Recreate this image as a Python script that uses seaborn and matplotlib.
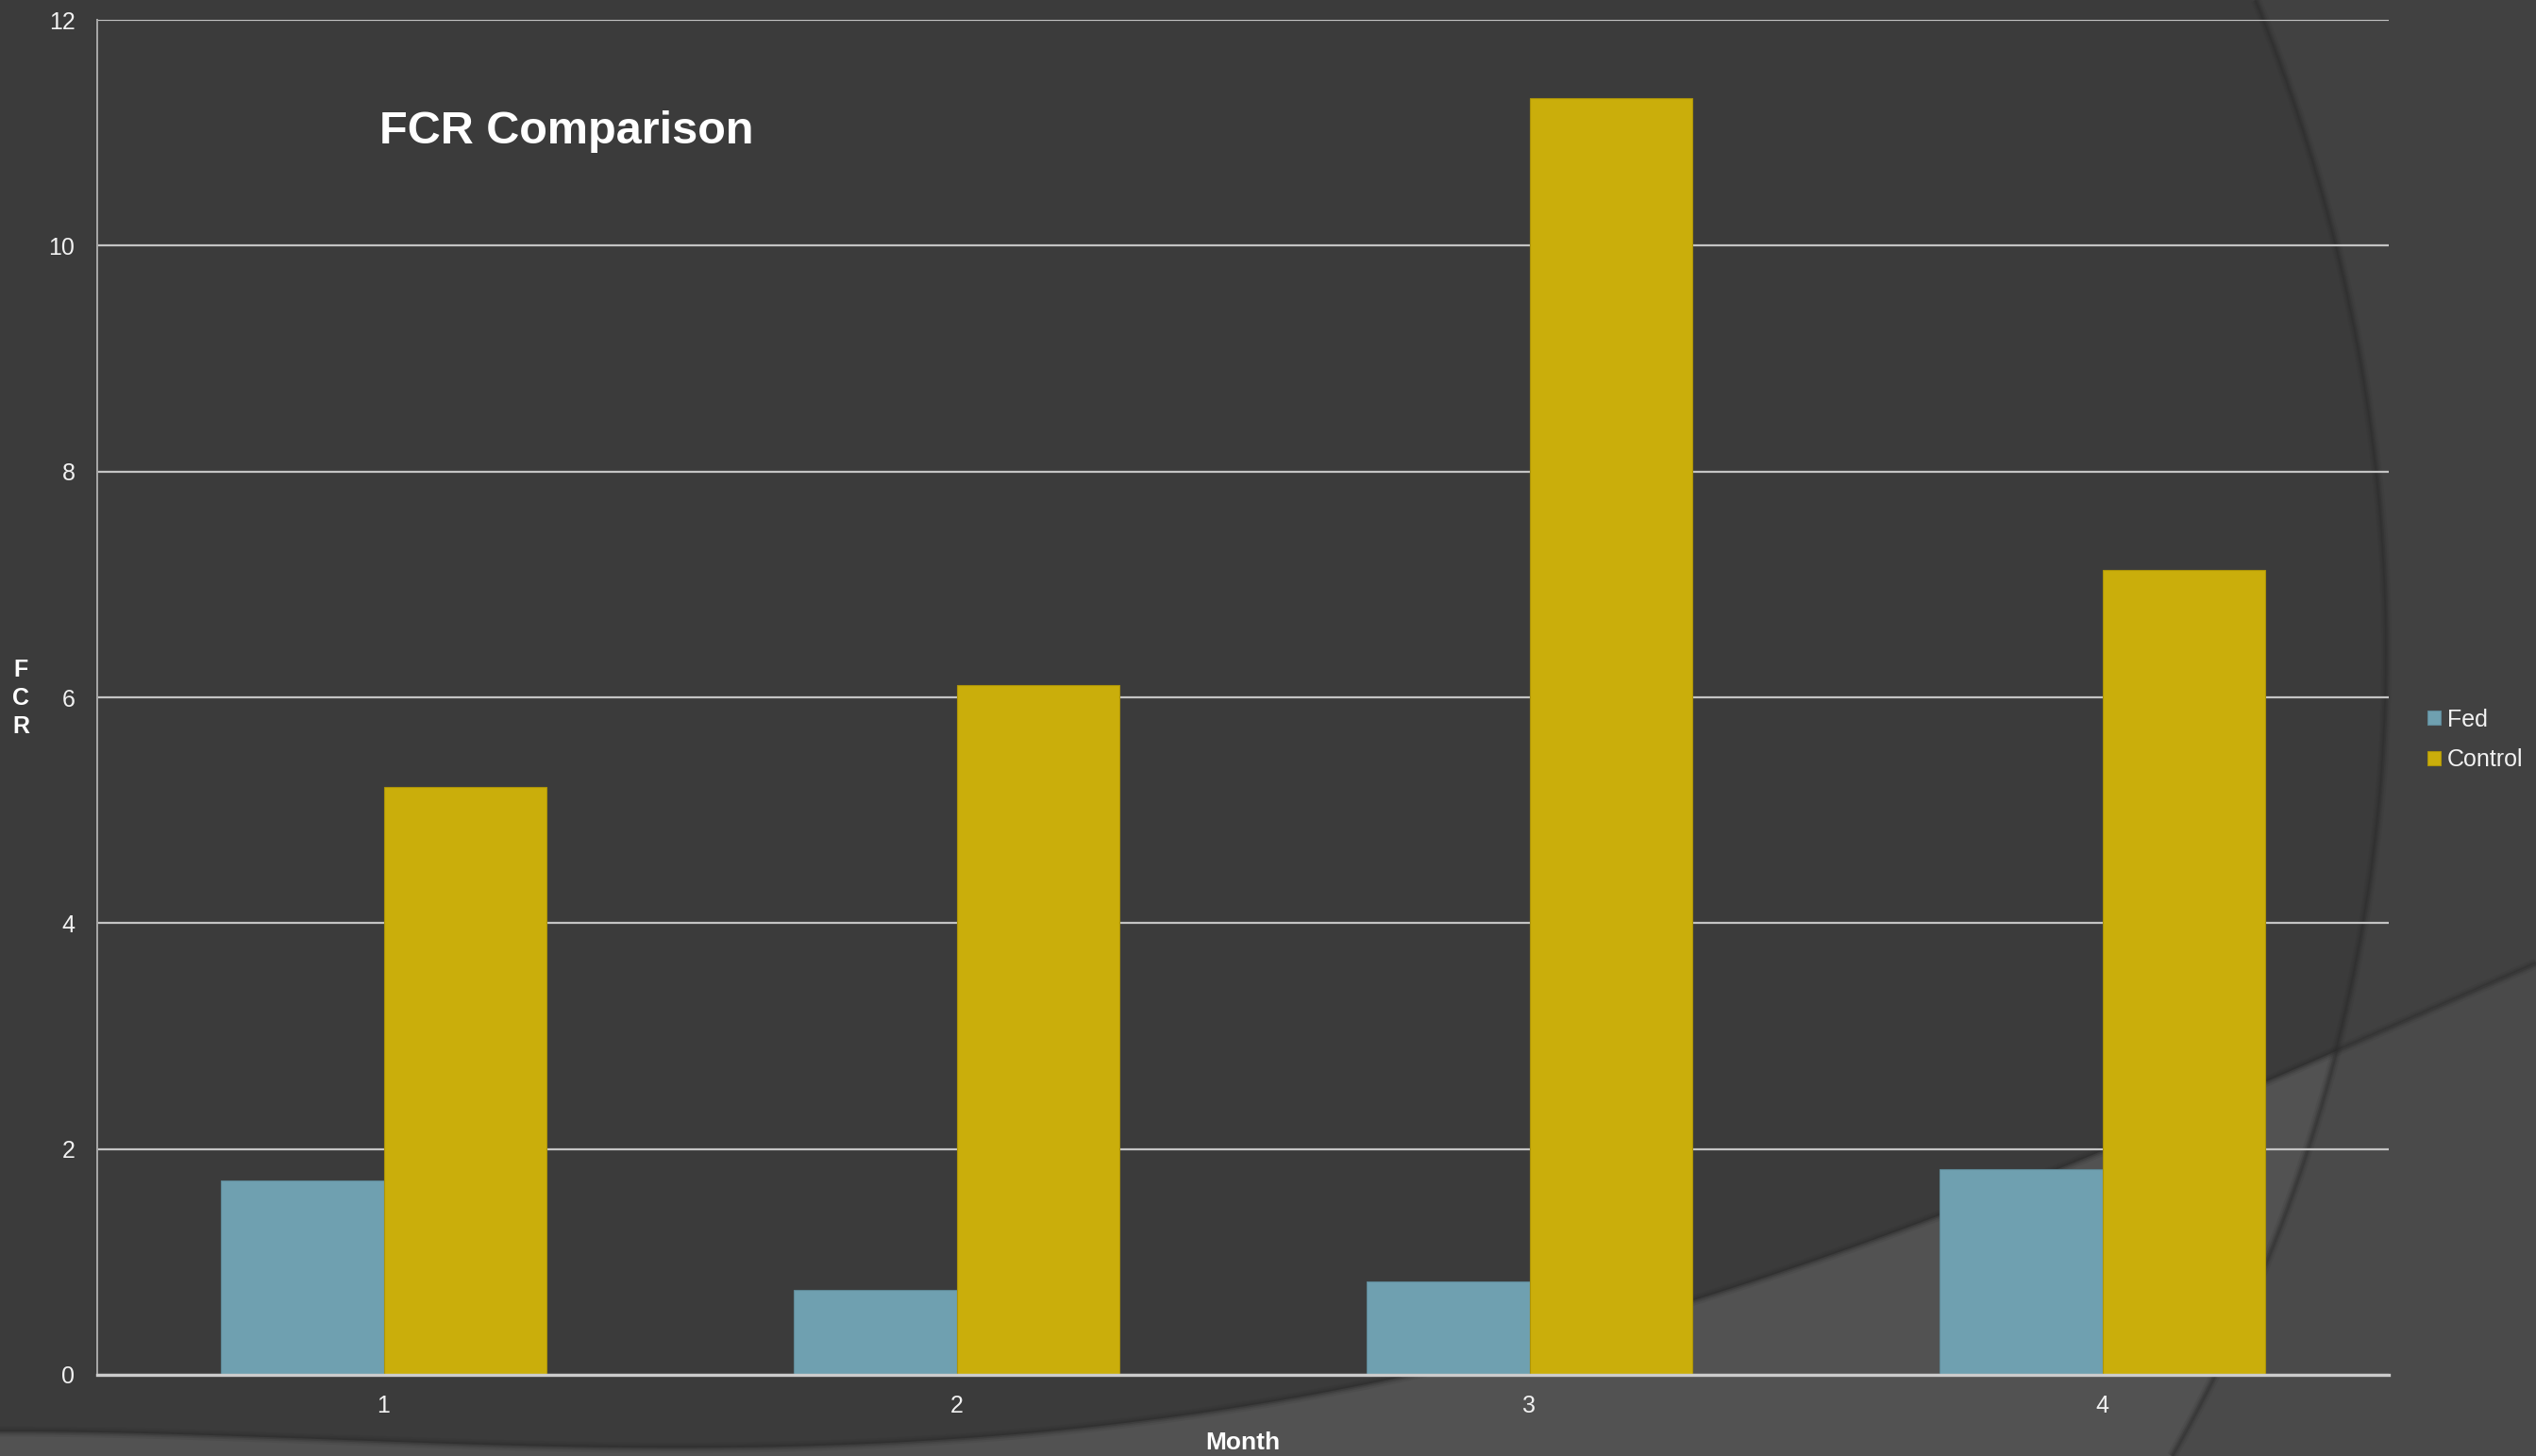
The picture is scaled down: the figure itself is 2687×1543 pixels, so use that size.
import numpy as np
import pandas as pd
import matplotlib
matplotlib.use("Agg")
import matplotlib.pyplot as plt
from matplotlib.patches import Polygon
import seaborn as sns

# ---- data ----
months = ["1", "2", "3", "4"]
fed = [1.72, 0.75, 0.83, 1.82]
control = [5.21, 6.11, 11.31, 7.13]
series_names = ["Fed", "Control"]
y_ticks = [0, 2, 4, 6, 8, 10, 12]

df = pd.DataFrame({
    "Month": months * 2,
    "Group": [series_names[0]] * len(months) + [series_names[1]] * len(months),
    "FCR": fed + control,
})

sns.set_style("white")
plt.rcParams["font.family"] = ["Liberation Sans", "DejaVu Sans"]

W, H = 2687, 1543
fig = plt.figure(figsize=(W / 100, H / 100), dpi=100)
fig.patch.set_facecolor("#3b3b3b")

# ---- decorative background (theme shapes) ----
bg = fig.add_axes([0, 0, 1, 1], zorder=-10)
bg.set_xlim(0, W)
bg.set_ylim(H, 0)
bg.axis("off")

arc_pts = np.array([(2390, 0), (2477, 259), (2510, 446), (2528, 700),
                    (2516, 900), (2478, 1113), (2402, 1330), (2302, 1543)], float)
ca = np.polyfit(arc_pts[:, 1], arc_pts[:, 0], 4)
ys = np.linspace(0, H, 300)
xs = np.polyval(ca, ys)
arc_poly = np.vstack([np.column_stack([xs, ys]), [[W, H], [W, 0]]])

low_pts = np.array([(0, 1517), (574, 1533), (800, 1532), (1259, 1503), (1473, 1459),
                    (1795, 1377), (1900, 1343), (2000, 1310), (2687, 1021)], float)
cl = np.polyfit(low_pts[:, 0], low_pts[:, 1], 4)
lx = np.linspace(0, W, 400)
ly = np.polyval(cl, lx)
low_poly = np.vstack([np.column_stack([lx, ly]), [[W, H], [0, H]]])

p_arc = Polygon(arc_poly, closed=True, facecolor="#414141", edgecolor="none")
bg.add_patch(p_arc)
p_low = Polygon(low_poly, closed=True, facecolor="#525252", edgecolor="none")
bg.add_patch(p_low)
p_low2 = Polygon(low_poly, closed=True, facecolor="#4a4a4a", edgecolor="none")
bg.add_patch(p_low2)
p_low2.set_clip_path(p_arc)
# soft shadows along the shape edges
for k, a in [(8, 0.12), (5, 0.18), (2.5, 0.3)]:
    bg.plot(lx, ly, color="#2a2a2a", lw=k, alpha=a, solid_capstyle="butt")
    bg.plot(xs, ys, color="#2a2a2a", lw=k, alpha=a, solid_capstyle="butt")

# ---- main chart ----
ax = fig.add_axes([103 / W, 1 - 1457 / H, (2531 - 103) / W, (1457 - 21) / H])
ax.set_facecolor("none")

sns.barplot(data=df, x="Month", y="FCR", hue="Group", order=months,
            hue_order=series_names, palette=["#6fa0b0", "#caae0b"],
            width=0.57, gap=0, dodge=True, saturation=1, errorbar=None,
            linewidth=0.8, edgecolor="#5c5c5c", ax=ax, zorder=3)

for p in ax.patches:
    fc = p.get_facecolor()
    p.set_edgecolor(tuple(np.array(fc[:3]) * 0.85) + (1,))

ax.set_ylim(0, 12)
ax.set_xlim(-0.5, len(months) - 0.5)
ax.set_yticks(y_ticks)
ax.set_yticklabels([str(t) for t in y_ticks])
ax.yaxis.grid(True, color="#c4c4c4", linewidth=1.6, zorder=0)
ax.set_axisbelow(True)

ax.set_xticks(range(len(months)))
ax.set_xticklabels(months)
ax.set_xticks(np.arange(-0.5, len(months), 1.0), minor=True)
ax.tick_params(axis="x", which="major", length=0, pad=15, labelsize=18, labelcolor="#f2f2f2")
ax.tick_params(axis="x", which="minor", length=6, width=1.2, color="#b0b0b0", direction="out")
ax.tick_params(axis="y", which="major", length=6, width=1.4, color="#b0b0b0",
               pad=11, labelsize=18, labelcolor="#f2f2f2", direction="out")

for s in ["top", "right"]:
    ax.spines[s].set_visible(False)
ax.spines["left"].set_color("#a8a8a8")
ax.spines["left"].set_linewidth(1.4)
ax.spines["bottom"].set_color("#cccccc")
ax.spines["bottom"].set_linewidth(2.4)
ax.spines["bottom"].set_zorder(5)

ax.set_xlabel("")
ax.set_ylabel("")
leg = ax.get_legend()
handles, labels = ax.get_legend_handles_labels()
if leg is not None:
    leg.remove()

fig.legend(handles, labels, loc="center left", bbox_to_anchor=(2572 / W, 1 - 784 / H),
           frameon=False, fontsize=18, labelcolor="#f2f2f2", handlelength=0.55,
           handleheight=0.55, handletextpad=0.3, labelspacing=0.75, borderpad=0,
           borderaxespad=0)

# titles / labels
fig.text(402 / W, 1 - 152 / H, "FCR Comparison", fontsize=35, fontweight="bold",
         color="white", ha="left", va="baseline")
fig.text(1317 / W, 1 - 1536 / H, "Month", fontsize=19, fontweight="bold",
         color="white", ha="center", va="baseline")
fig.text(22 / W, 1 - 740 / H, "F\nC\nR", fontsize=18, fontweight="bold",
         color="white", ha="center", va="center", linespacing=1.3,
         multialignment="center")

fig.savefig("out.png", dpi=100, facecolor=fig.get_facecolor())
